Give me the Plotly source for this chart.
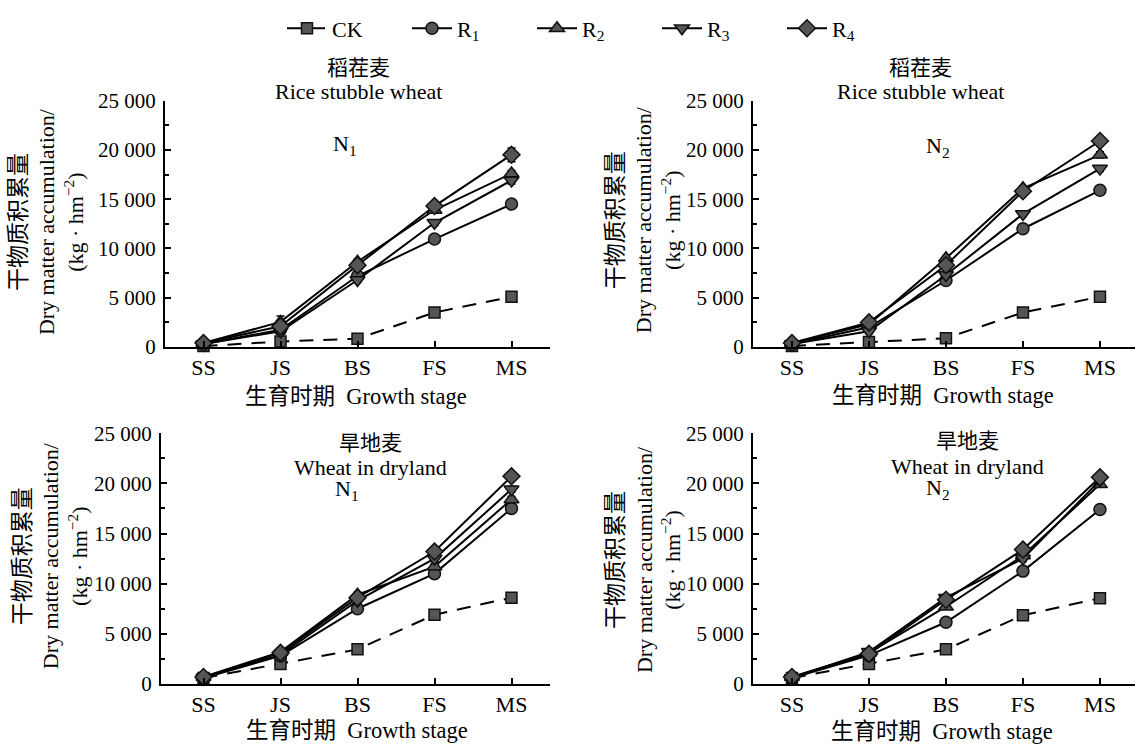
import plotly.graph_objects as go

W, H = 1135, 756

stages = ["SS", "JS", "BS", "FS", "MS"]
series_names = ["CK", "R<sub>1</sub>", "R<sub>2</sub>", "R<sub>3</sub>", "R<sub>4</sub>"]
y_tick_values = [0, 5000, 10000, 15000, 20000, 25000]
y_tick_labels = ["0", "5 000", "10 000", "15 000", "20 000", "25 000"]
y_minor_values = [2500, 7500, 12500, 17500, 22500]

# Rice stubble wheat, N1
rice_n1_ck = [100, 550, 850, 3500, 5100]
rice_n1_r1 = [300, 1750, 7200, 10950, 14500]
rice_n1_r2 = [400, 2550, 8650, 13900, 17600]
rice_n1_r3 = [300, 1600, 6800, 12600, 16900]
rice_n1_r4 = [400, 2100, 8300, 14300, 19500]
rice_n1_err = [[50, 100, 100, 150, 150], [50, 200, 200, 250, 200], [50, 600, 250, 250, 300],
               [50, 300, 250, 300, 350], [50, 300, 250, 250, 700]]

# Rice stubble wheat, N2
rice_n2_ck = [100, 500, 900, 3500, 5100]
rice_n2_r1 = [300, 2000, 6750, 12000, 15900]
rice_n2_r2 = [400, 2300, 9000, 16100, 19500]
rice_n2_r3 = [300, 1600, 7300, 13500, 18100]
rice_n2_r4 = [400, 2500, 8300, 15800, 20900]
rice_n2_err = [[50, 100, 100, 150, 150], [50, 200, 200, 200, 200], [50, 250, 250, 250, 300],
               [50, 250, 250, 250, 300], [50, 250, 250, 250, 250]]

# Wheat in dryland, N1
dry_n1_ck = [600, 2000, 3450, 6900, 8600]
dry_n1_r1 = [600, 2800, 7500, 11000, 17500]
dry_n1_r2 = [700, 3200, 8900, 11700, 18400]
dry_n1_r3 = [650, 2900, 8300, 12500, 19400]
dry_n1_r4 = [700, 3100, 8600, 13200, 20700]
dry_n1_err = [[50, 150, 150, 150, 200], [50, 200, 200, 250, 300], [50, 200, 250, 300, 300],
              [50, 200, 250, 300, 300], [50, 200, 250, 300, 250]]

# Wheat in dryland, N2
dry_n2_ck = [600, 2000, 3450, 6850, 8550]
dry_n2_r1 = [600, 2850, 6150, 11250, 17400]
dry_n2_r2 = [700, 3100, 7700, 12800, 19900]
dry_n2_r3 = [600, 3200, 8600, 12500, 20300]
dry_n2_r4 = [700, 3000, 8400, 13400, 20600]
dry_n2_err = [[50, 150, 150, 150, 200], [50, 200, 250, 250, 250], [50, 200, 250, 300, 300],
              [50, 200, 250, 300, 300], [50, 200, 250, 300, 300]]

crop_cn = ["稻茬麦", "旱地麦"]
crop_en = ["Rice stubble wheat", "Wheat in dryland"]
n_labels = ["N<sub>1</sub>", "N<sub>2</sub>"]
x_title = "生育时期  Growth stage"
y_title = ("<span style='font-size:23px'>干物质积累量</span><br>Dry matter accumulation/"
           "<br>(kg · hm<sup>−2</sup>)")

FONT = "Liberation Serif, Noto Sans CJK SC, serif"
FS = 21
symbols = ["square", "circle", "triangle-up", "triangle-down", "diamond"]
dashes = ["14px,10px", "solid", "solid", "solid", "solid"]
msizes = [11, 12, 13, 13, 13]

def px(x):
    return x / W

def py(y):
    return 1 - y / H

panels = [
    dict(data=[rice_n1_ck, rice_n1_r1, rice_n1_r2, rice_n1_r3, rice_n1_r4], err=rice_n1_err,
         x0=165, x1=550, y0=91.5, y1=346, xr=[-0.5, 4.5], cn=crop_cn[0], en=crop_en[0],
         n=n_labels[0], tx=358, ty=(58, 82), npos=(345, 137), ypos=(47, 217), xpos=(356, 397)),
    dict(data=[rice_n2_ck, rice_n2_r1, rice_n2_r2, rice_n2_r3, rice_n2_r4], err=rice_n2_err,
         x0=753, x1=1135, y0=91.5, y1=346, xr=[-0.506, 4.455], cn=crop_cn[0], en=crop_en[0],
         n=n_labels[1], tx=920, ty=(58, 82), npos=(938, 139), ypos=(644, 215), xpos=(943, 396)),
    dict(data=[dry_n1_ck, dry_n1_r1, dry_n1_r2, dry_n1_r3, dry_n1_r4], err=dry_n1_err,
         x0=161, x1=550, y0=435, y1=694, xr=[-0.552, 4.5], cn=crop_cn[1], en=crop_en[1],
         n=n_labels[0], tx=370, ty=(445, 470), npos=(347, 494), ypos=(51, 562), xpos=(357, 742)),
    dict(data=[dry_n2_ck, dry_n2_r1, dry_n2_r2, dry_n2_r3, dry_n2_r4], err=dry_n2_err,
         x0=753, x1=1135, y0=435, y1=694, xr=[-0.506, 4.455], cn=crop_cn[1], en=crop_en[1],
         n=n_labels[1], tx=967, ty=(443, 469), npos=(938, 493), ypos=(644, 566), xpos=(942, 743)),
]

fig = go.Figure()
annotations = []
layout_axes = {}

for i, p in enumerate(panels):
    k = "" if i == 0 else str(i + 1)
    for j, vals in enumerate(p["data"]):
        fig.add_trace(go.Scatter(
            x=stages, y=vals, name=series_names[j], legendgroup=series_names[j],
            showlegend=(i == 0), mode="lines+markers", cliponaxis=False,
            xaxis="x" + k, yaxis="y" + k,
            line=dict(color="black", width=2, dash=dashes[j]),
            marker=dict(symbol=symbols[j], size=msizes[j], color="#555555",
                        line=dict(color="#111111", width=1.5)),
            error_y=dict(type="data", array=p["err"][j], color="black", thickness=1.5, width=4),
        ))
    layout_axes["xaxis" + k] = dict(
        domain=[px(p["x0"]), px(p["x1"])], range=p["xr"], anchor="y" + k,
        showline=True, linewidth=2, linecolor="black", ticks="inside", ticklen=6,
        tickwidth=2, tickcolor="black", showgrid=False, zeroline=False,
        tickfont=dict(family=FONT, size=22, color="black"), fixedrange=True,
    )
    layout_axes["yaxis" + k] = dict(
        domain=[py(p["y1"]), py(p["y0"])], range=[0, 25000], anchor="x" + k,
        showline=True, linewidth=2, linecolor="black", ticks="inside", ticklen=6,
        tickwidth=2, tickcolor="black", showgrid=False, zeroline=False,
        tickvals=y_tick_values, ticktext=y_tick_labels, ticklabelstandoff=3,
        minor=dict(tickvals=y_minor_values, ticks="inside", ticklen=4, tickwidth=2,
                   tickcolor="black", showgrid=False),
        tickfont=dict(family=FONT, size=FS, color="black"), fixedrange=True,
    )
    f = dict(family=FONT, size=22, color="black")
    annotations.append(dict(text=p["cn"], x=px(p["tx"]), y=py(p["ty"][0]),
                            xref="paper", yref="paper", showarrow=False,
                            font=dict(family=FONT, size=21, color="black"),
                            xanchor="center", yanchor="middle"))
    annotations.append(dict(text=p["en"], x=px(p["tx"]), y=py(p["ty"][1]),
                            xref="paper", yref="paper", showarrow=False, font=f,
                            xanchor="center", yanchor="middle"))
    annotations.append(dict(text=p["n"], x=px(p["npos"][0]), y=py(p["npos"][1]),
                            xref="paper", yref="paper", showarrow=False, font=f,
                            xanchor="center", yanchor="middle"))
    annotations.append(dict(text=y_title, x=px(p["ypos"][0]), y=py(p["ypos"][1]),
                            xref="paper", yref="paper", showarrow=False, font=f,
                            textangle=-90, xanchor="center", yanchor="middle"))
    annotations.append(dict(text=x_title, x=px(p["xpos"][0]), y=py(p["xpos"][1]),
                            xref="paper", yref="paper", showarrow=False,
                            font=dict(family=FONT, size=22.5, color="black"),
                            xanchor="center", yanchor="middle"))

fig.update_layout(
    width=W, height=H, margin=dict(l=0, r=0, t=0, b=0),
    paper_bgcolor="white", plot_bgcolor="white",
    font=dict(family=FONT, size=FS, color="black"),
    showlegend=True,
    legend=dict(orientation="h", x=px(282), xanchor="left", y=py(17), yanchor="middle",
                font=dict(family=FONT, size=22, color="black"),
                entrywidth=70, entrywidthmode="pixels", itemwidth=40,
                bgcolor="rgba(0,0,0,0)", tracegroupgap=0),
    annotations=annotations,
    **layout_axes,
)

fig.write_html("out.html", config={"displayModeBar": False})
